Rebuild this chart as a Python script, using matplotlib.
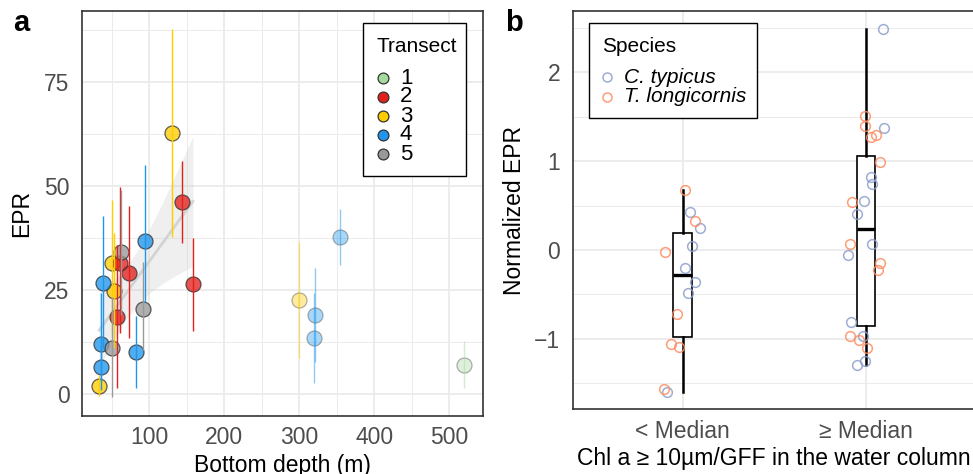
import numpy as np
import matplotlib
matplotlib.use('Agg')
import matplotlib.pyplot as plt
from matplotlib.patches import Rectangle
from matplotlib.lines import Line2D
from matplotlib.ticker import FixedLocator

plt.rcParams['font.family'] = ['Liberation Sans', 'DejaVu Sans']

W, H = 973, 474

# ---------------- Panel a data ----------------
transect = [3, 3, 3, 3, 3,
            2, 2, 2, 2, 2,
            4, 4, 4, 4, 4, 4, 4, 4,
            5, 5, 5,
            1]
depth = [130.2, 50.0, 52.6, 33.0, 299.0,
         144.0, 158.0, 72.8, 60.8, 56.3,
         38.1, 94.5, 82.1, 36.0, 35.5, 354.0, 321.0, 319.6,
         62.0, 91.0, 49.7,
         520.3]
epr = [62.8, 31.6, 24.8, 1.9, 22.6,
       46.2, 26.4, 29.2, 31.4, 18.6,
       26.8, 36.8, 10.0, 12.0, 6.4, 37.8, 19.0, 13.5,
       34.2, 20.4, 11.1,
       7.0]
epr_lo = [37.8, 14.7, 11.0, -0.6, 8.6,
          36.2, 15.1, 13.5, 14.7, 1.4,
          11.0, 22.0, 1.4, 3.0, 1.0, 31.0, 7.8, 2.6,
          19.0, 10.6, -0.8,
          1.4]
epr_hi = [87.7, 46.6, 38.8, 4.5, 36.6,
          56.0, 37.4, 45.2, 49.7, 35.8,
          42.8, 55.0, 18.8, 24.4, 11.5, 44.6, 30.2, 24.4,
          49.0, 31.8, 23.4,
          12.7]
transect_levels = [1, 2, 3, 4, 5]
transect_colors = {1: '#a6dba0', 2: '#e3211c', 3: '#ffcc00', 4: '#1f96ec', 5: '#999999'}
shelf_break = 200  # points deeper than this are faded and excluded from the fit

# ---------------- Panel b data ----------------
groups = ['< Median', '\u2265 Median']
ct_y1 = [0.428, 0.244, 0.045, -0.206, -0.360, -0.484, -1.602]
ct_j1 = [0.040, 0.095, 0.051, 0.011, 0.069, 0.027, -0.086]
tl_y1 = [0.672, 0.326, -0.026, -0.724, -1.062, -1.088, -1.561]
tl_j1 = [0.015, 0.069, -0.095, -0.031, -0.062, -0.020, -0.101]
ct_y2 = [2.492, 1.373, 0.818, 0.739, 0.555, 0.409, 0.071, -0.056, -0.814, -0.968, -1.250, -1.295]
ct_j2 = [0.093, 0.099, 0.027, 0.035, -0.009, -0.048, 0.033, -0.099, -0.080, -0.015, -0.004, -0.048]
tl_y2 = [1.505, 1.396, 1.295, 1.268, 0.987, 0.544, 0.064, -0.143, -0.225, -0.972, -1.009, -1.107]
tl_j2 = [-0.007, -0.004, 0.053, 0.029, 0.077, -0.073, -0.088, 0.079, 0.066, -0.088, -0.037, 0.005]
species = ['C. typicus', 'T. longicornis']
species_colors = {'C. typicus': '#8da0cb', 'T. longicornis': '#fc8d62'}

# ---------------- Figure ----------------
fig = plt.figure(figsize=(W / 100, H / 100), dpi=100)


def px_rect(x0, y0, x1, y1):
    return [x0 / W, 1 - y1 / H, (x1 - x0) / W, (y1 - y0) / H]


def fx(x):
    return x / W


def fy(y):
    return 1 - y / H


axA = fig.add_axes(px_rect(82, 11, 483, 416))
axB = fig.add_axes(px_rect(572.7, 11, 975.8, 409.3))

grid_c = '#ebebeb'
border_c = '#333333'
tick_c = '#4d4d4d'

for ax in (axA, axB):
    ax.set_facecolor('white')
    for s in ax.spines.values():
        s.set_color(border_c)
        s.set_linewidth(1.2)
        s.set_zorder(10)
    ax.tick_params(axis='both', which='both', length=0, labelsize=16.5,
                   labelcolor=tick_c)
    ax.tick_params(axis='x', pad=7.5)
    ax.tick_params(axis='y', pad=9)
    ax.grid(True, which='major', color=grid_c, lw=1.3, zorder=0)
    ax.grid(True, which='minor', color=grid_c, lw=0.7, zorder=0)
    ax.set_axisbelow(True)

# ---- Panel a ----
axA.set_xlim(10, 545)
axA.set_ylim(-5.3, 92.1)
axA.xaxis.set_major_locator(FixedLocator([100, 200, 300, 400, 500]))
axA.xaxis.set_minor_locator(FixedLocator([50, 150, 250, 350, 450]))
axA.yaxis.set_major_locator(FixedLocator([0, 25, 50, 75]))
axA.yaxis.set_minor_locator(FixedLocator([12.5, 37.5, 62.5, 87.5]))

depth_a = np.array(depth)
epr_a = np.array(epr)
shelf = depth_a < shelf_break

# linear fit with 95% CI over shelf stations
xs = depth_a[shelf]
ys = epr_a[shelf]
n = len(xs)
b1, b0 = np.polyfit(xs, ys, 1)
resid = ys - (b0 + b1 * xs)
s_err = np.sqrt(np.sum(resid ** 2) / (n - 2))
t_crit = 2.131  # t(0.975, df=15)
xg = np.linspace(xs.min(), xs.max(), 80)
yg = b0 + b1 * xg
se = s_err * np.sqrt(1 / n + (xg - xs.mean()) ** 2 / np.sum((xs - xs.mean()) ** 2))
axA.fill_between(xg, yg - t_crit * se, yg + t_crit * se, color='#cccccc', alpha=0.3,
                 lw=0, zorder=2)
axA.plot(xg, yg, color='#d3d3d3', lw=2.0, zorder=2.5)

for t, d, e, lo, hi in zip(transect, depth, epr, epr_lo, epr_hi):
    alpha = 0.78 if d < shelf_break else 0.38
    col = transect_colors[t]
    axA.plot([d], [e], 'o', ms=10.8, mfc=col, mec='#333333', mew=0.9,
             alpha=alpha, zorder=3)
    axA.plot([d, d], [lo, hi], color=col, lw=1.0, alpha=(1.0 if d < shelf_break else 0.5),
             zorder=4, solid_capstyle='butt')

axA.set_xlabel('Bottom depth (m)', fontsize=16.5, labelpad=3)
axA.set_ylabel('EPR', fontsize=16.5, labelpad=8)

# legend a (manual)
fig.patches.append(Rectangle((fx(363.3), fy(176)), fx(466) - fx(363.3), fy(22.7) - fy(176),
                             transform=fig.transFigure, fill=True, fc='white',
                             ec='black', lw=1.0, zorder=20))
fig.text(fx(376.5), fy(46), 'Transect', fontsize=15, va='center', ha='left', zorder=21)
for i, t in enumerate(transect_levels):
    yy = 78 + i * 19
    fig.add_artist(Line2D([fx(383.3)], [fy(yy)], marker='o', ms=7.8,
                          mfc=transect_colors[t], mec='#333333', mew=0.9,
                          transform=fig.transFigure, zorder=21))
    fig.text(fx(400), fy(yy), str(t), fontsize=16, va='center', ha='left', zorder=21)

# ---- Panel b ----
axB.set_xlim(0.4, 2.6)
axB.set_ylim(-1.794, 2.69)
axB.xaxis.set_major_locator(FixedLocator([1, 2]))
axB.set_xticklabels(groups)
axB.xaxis.set_minor_locator(FixedLocator([]))
axB.yaxis.set_major_locator(FixedLocator([-1, 0, 1, 2]))
axB.yaxis.set_minor_locator(FixedLocator([-1.5, -0.5, 0.5, 1.5, 2.5]))
axB.set_yticklabels(['\u22121', '0', '1', '2'])

g1 = np.array(ct_y1 + tl_y1)
g2 = np.array(ct_y2 + tl_y2)
axB.boxplot([g1, g2], positions=[1, 2], widths=0.1, showcaps=False, showfliers=False,
            patch_artist=True, manage_ticks=False,
            boxprops=dict(facecolor='white', edgecolor='black', lw=1.2),
            whiskerprops=dict(color='black', lw=1.8),
            medianprops=dict(color='black', lw=2.4, solid_capstyle='butt'),
            zorder=3)

for grp, yv, jv in [(1, ct_y1, ct_j1), (2, ct_y2, ct_j2)]:
    axB.plot(grp + np.array(jv), yv, 'o', ms=7, mfc='none', mec=species_colors['C. typicus'],
             mew=1.1, alpha=0.85, zorder=4)
for grp, yv, jv in [(1, tl_y1, tl_j1), (2, tl_y2, tl_j2)]:
    axB.plot(grp + np.array(jv), yv, 'o', ms=7, mfc='none', mec=species_colors['T. longicornis'],
             mew=1.1, alpha=0.85, zorder=4)

axB.set_xlabel('Chl a \u2265 10\u00b5m/GFF in the water column', fontsize=16.5, labelpad=3)
axB.set_ylabel('Normalized EPR', fontsize=16.5, labelpad=6)

# legend b (manual)
fig.patches.append(Rectangle((fx(589.3), fy(118)), fx(757) - fx(589.3), fy(22.7) - fy(118),
                             transform=fig.transFigure, fill=True, fc='white',
                             ec='black', lw=1.0, zorder=20))
fig.text(fx(602.5), fy(46), 'Species', fontsize=15, va='center', ha='left', zorder=21)
for i, sp in enumerate(species):
    yy = 77.3 + i * 19.4
    fig.add_artist(Line2D([fx(606.7)], [fy(yy)], marker='o', ms=6.5, mfc='none',
                          mec=species_colors[sp], mew=1.1, alpha=0.85,
                          transform=fig.transFigure, zorder=21))
    fig.text(fx(624), fy(yy), sp, fontsize=15, style='italic', va='center', ha='left',
             zorder=21)

# panel letters
fig.text(fx(13), fy(23), 'a', fontsize=21, fontweight='bold', va='center', ha='left')
fig.text(fx(505), fy(23), 'b', fontsize=21, fontweight='bold', va='center', ha='left')

fig.savefig('out.png', dpi=100)
